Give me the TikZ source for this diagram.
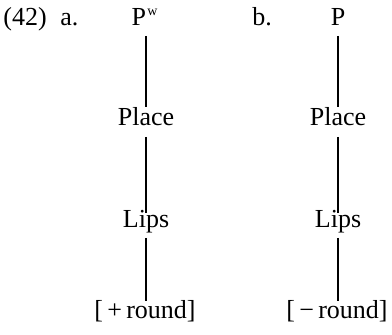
\documentclass[tikz,border=0pt]{standalone}
\usepackage{fontspec}
\setmainfont{Liberation Serif}
\begin{document}
\begin{tikzpicture}[x=0.5pt,y=-0.5pt,
  lbl/.style={inner sep=0pt,anchor=base,font=\fontsize{13}{15}\selectfont},
  num/.style={inner sep=0pt,anchor=base west,font=\fontsize{13}{15}\selectfont},
  tie/.style={line width=0.6pt}]
\useasboundingbox (0,0) rectangle (392,335);
\node[num] (n42) at (3,26) {(42)};
\node[num] (na) at (60,26) {a.};
\node[num] (nb) at (252,26) {b.};
% column a
\node[lbl] (pa) at (144.5,26) {P\kern0.05em\raisebox{0.42em}{\fontsize{7}{8}\selectfont w}};
\node[lbl] (placea) at (146,125.5) {Place};
\node[lbl] (lipsa) at (146,228) {Lips};
\node[lbl] (rounda) at (145,319) {[\,+\,round]};
% column b
\node[lbl] (pb) at (338,26) {P};
\node[lbl] (placeb) at (338,125.5) {Place};
\node[lbl] (lipsb) at (338,228) {Lips};
\node[lbl] (roundb) at (337,319) {[\,−\,round]};
% connectors
\foreach \c in {a,b}{
  \draw[tie] ([yshift=-5pt]p\c.base -| place\c.base) -- ([yshift=9pt]place\c.base);
  \draw[tie] ([yshift=-5.75pt]place\c.base) -- ([yshift=7.5pt]lips\c.base);
  \draw[tie] ([yshift=-5pt]lips\c.base) -- ([yshift=8.75pt]round\c.base -| lips\c.base);
}
\end{tikzpicture}
\end{document}
